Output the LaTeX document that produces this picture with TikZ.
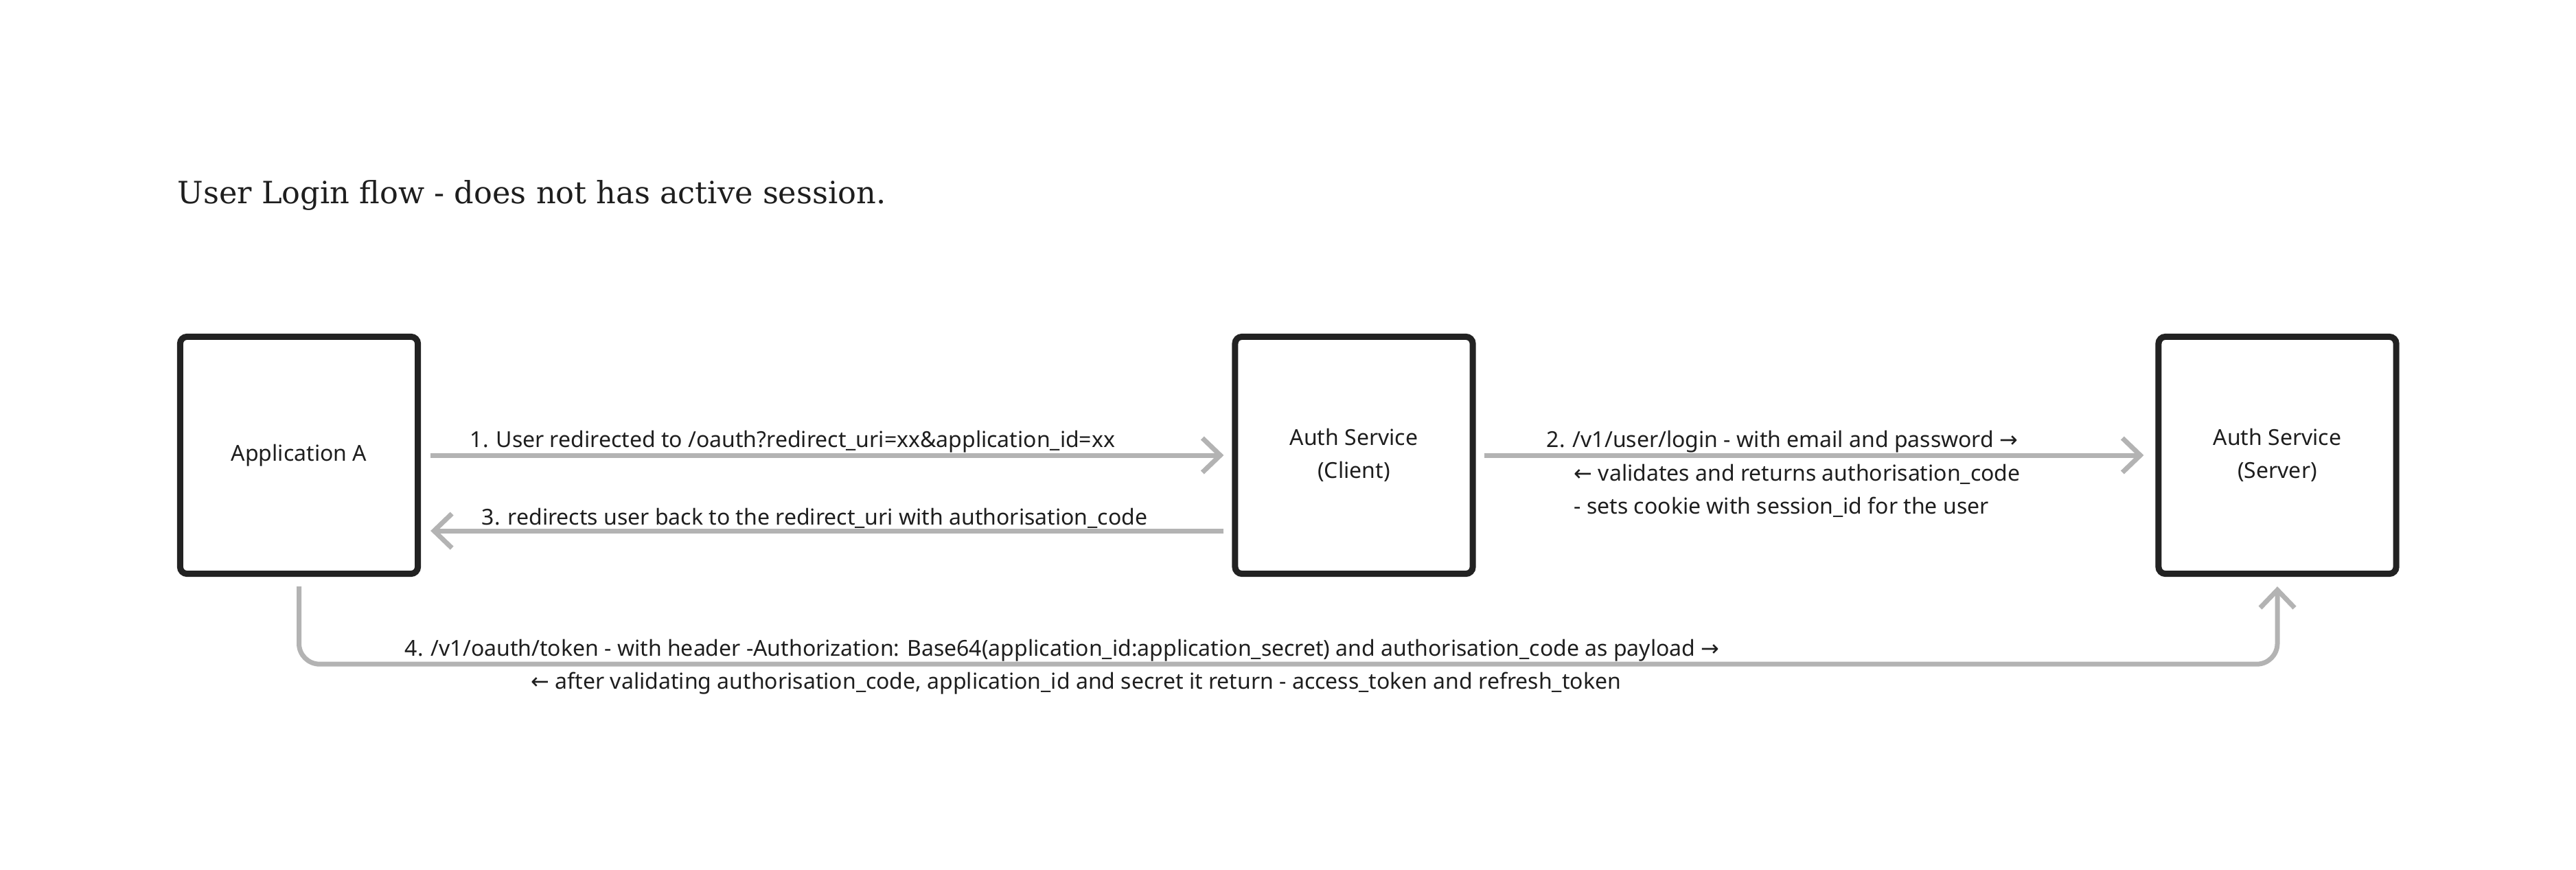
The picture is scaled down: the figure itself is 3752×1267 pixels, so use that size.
\documentclass[tikz,border=0pt]{standalone}
\usepackage{fontspec}
\setmainfont{Noto Sans}
\newfontfamily\titlefont{DejaVu Serif}
\newfontfamily\symfont{DejaVu Sans}
\newcommand{\rarr}{{\symfont →}}
\newcommand{\larr}{{\symfont ←}}
\usetikzlibrary{arrows.meta,calc}
\definecolor{boxline}{HTML}{222222}
\definecolor{arrowgray}{HTML}{B3B3B3}
\definecolor{txt}{HTML}{1E1E1E}
\tikzset{
  sysbox/.style={draw=boxline, line width=0.09cm, rounded corners=0.1cm, minimum width=3.46cm, minimum height=3.45cm, align=center, font=\fontsize{9.1}{13.6}\selectfont, text=txt, fill=white},
  flow/.style={draw=arrowgray, line width=0.07cm, -{Straight Barb[length=0.26cm,width=0.5cm,line width=0.07cm]}},
  lbl/.style={anchor=west, inner sep=0pt, font=\fontsize{9.1}{13.6}\selectfont, text=txt},
  ttl/.style={anchor=west, inner sep=0pt, font=\titlefont\fontsize{12.7}{16}\selectfont, text=txt}
}
\begin{document}
\begin{tikzpicture}[x=0.01cm,y=-0.01cm]
\useasboundingbox[fill=white] (0,0) rectangle (3752,1267);
\node[ttl] (title) at (258,284) {User Login flow - does not has active session.};
\node[sysbox] (A) at (435.5,663) {\raisebox{-0.05cm}{Application A}};
\node[sysbox] (C) at (1972,663) {\raisebox{-0.03cm}{\begin{tabular}{@{}c@{}}Auth Service\\(Client)\end{tabular}}};
\node[sysbox] (S) at (3317,663) {\raisebox{-0.03cm}{\begin{tabular}{@{}c@{}}Auth Service\\(Server)\end{tabular}}};
% arrow 1
\draw[flow, shorten <=0.14cm, shorten >=0.12cm] (A.east) -- (C.west);
\node[lbl] (l1) at (684,643) {1. User redirected to /oauth?redirect\_uri=xx\&application\_id=xx};
% arrow 3
\draw[flow, shorten <=0.12cm, shorten >=0.14cm] ([yshift=-1.1cm]C.west) -- ([yshift=-1.1cm]A.east);
\node[lbl] (l3) at (701,755) {3. redirects user back to the redirect\_uri with authorisation\_code};
% arrow 2
\draw[flow, shorten <=0.12cm, shorten >=0.17cm] (C.east) -- (S.west);
\node[lbl] (l2a) at (2252,643) {2. /v1/user/login - with email and password \rarr};
\node[lbl] (l2b) at (2292,691) {\larr{} validates and returns authorisation\_code};
\node[lbl] (l2c) at (2292,739) {- sets cookie with session\_id for the user};
% arrow 4
\draw[flow, rounded corners=0.3cm] ([yshift=-0.14cm]A.south) -- ([yshift=-1.27cm]A.south) -| ([yshift=-0.14cm]S.south);
\node[lbl] (l4a) at (589,947) {4. /v1/oauth/token - with header -Authorization: Base64(application\_id:application\_secret) and authorisation\_code as payload \rarr};
\node[lbl] (l4b) at (773,995) {\larr{} after validating authorisation\_code, application\_id and secret it return - access\_token and refresh\_token};
\end{tikzpicture}
\end{document}
